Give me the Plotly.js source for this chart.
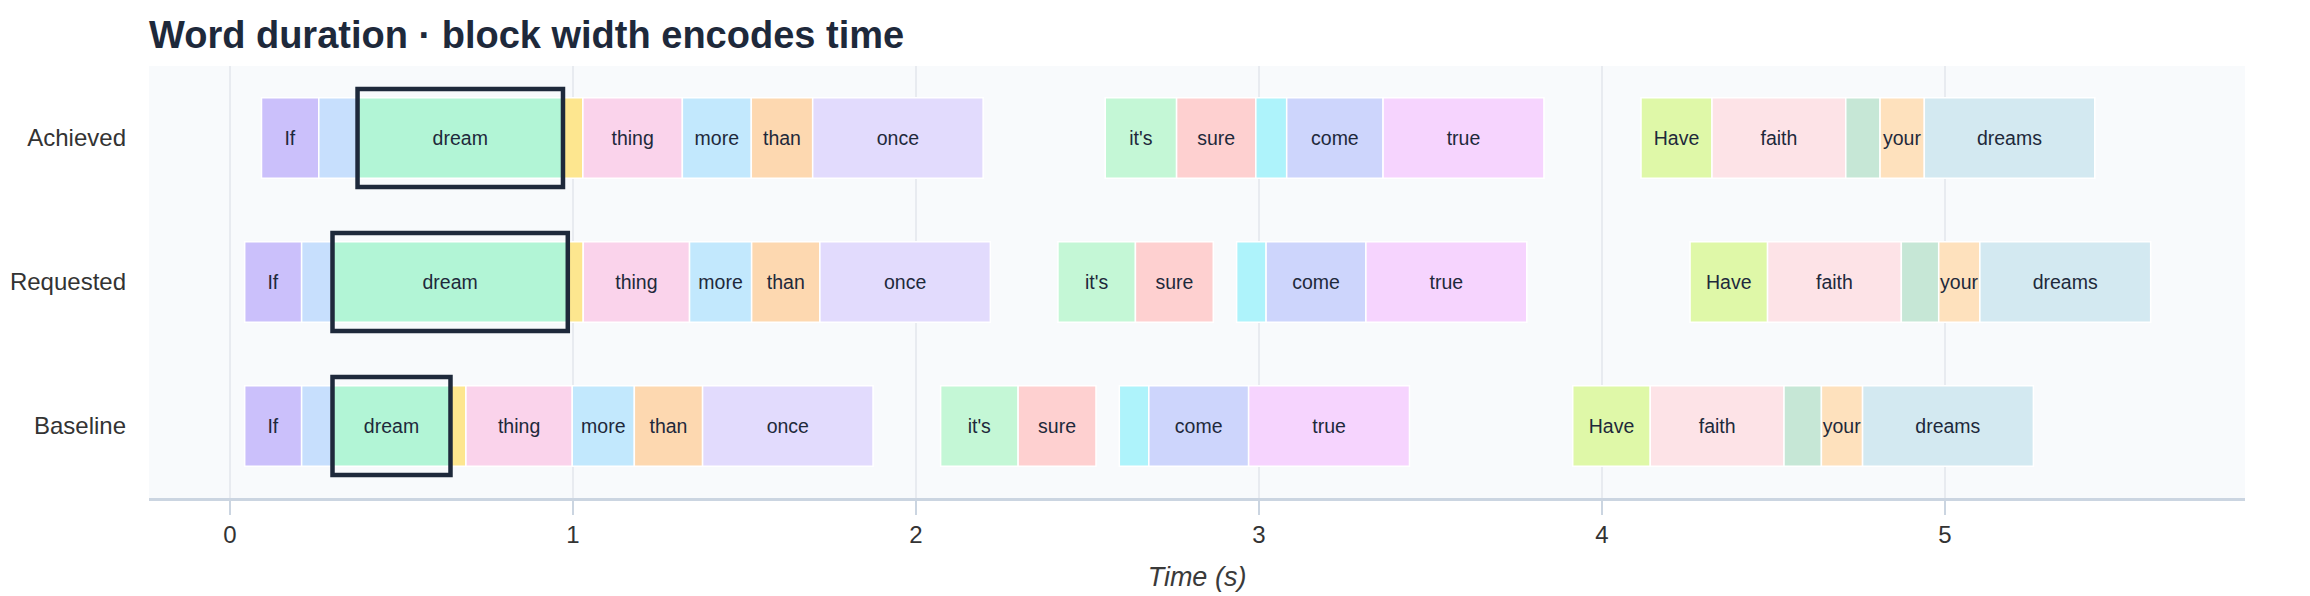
<!DOCTYPE html>
<html>
<head>
<meta charset="utf-8">
<script src="https://cdn.plot.ly/plotly-3.0.1.min.js"></script>
<style>
  html, body { margin: 0; padding: 0; background: #fff; }
  #chart { width: 2310px; height: 596px; }
</style>
</head>
<body>
<div id="chart"></div>
<script>
// Words of the phrase, in order
const words = ['If', 'I', 'dream', 'a', 'thing', 'more', 'than', 'once',
    "it's", 'sure', 'to', 'come', 'true',
    'Have', 'faith', 'in', 'your', 'dreams'];

// Short words whose block is too narrow to carry a label
const hiddenLabels = ['I', 'a', 'to', 'in'];

// One pastel colour per word
const wordColors = ['#cbc0fb', '#c7dffd', '#b2f5d6', '#fde68f', '#fad3eb', '#c2e8fd', '#fdd8b0', '#e2dbfd',
    '#c4f7d6', '#fed0d0', '#aef3fb', '#cdd5fc', '#f6d4fe',
    '#dff8a8', '#fde3e7', '#c6e7d6', '#fee1bd', '#d3e9f1'];

// Rows, top to bottom
const rows = ['Achieved', 'Requested', 'Baseline'];

// Word start / end times in seconds, per row
const baselineStart = [0.043, 0.209, 0.299, 0.643, 0.688, 0.998, 1.179, 1.378,
    2.072, 2.298, 2.593, 2.679, 2.970,
    3.915, 4.141, 4.531, 4.640, 4.760];
const baselineEnd = [0.209, 0.299, 0.643, 0.688, 0.998, 1.179, 1.378, 1.875,
    2.298, 2.525, 2.679, 2.970, 3.439,
    4.141, 4.531, 4.640, 4.760, 5.258];

const requestedStart = [0.043, 0.209, 0.299, 0.985, 1.030, 1.340, 1.521, 1.720,
    2.414, 2.640, 2.935, 3.021, 3.312,
    4.257, 4.483, 4.873, 4.982, 5.102];
const requestedEnd = [0.209, 0.299, 0.985, 1.030, 1.340, 1.521, 1.720, 2.217,
    2.640, 2.867, 3.021, 3.312, 3.781,
    4.483, 4.873, 4.982, 5.102, 5.600];

const achievedStart = [0.092, 0.259, 0.372, 0.971, 1.029, 1.319, 1.520, 1.699,
    2.552, 2.760, 2.991, 3.081, 3.362,
    4.114, 4.321, 4.711, 4.811, 4.940];
const achievedEnd = [0.259, 0.372, 0.971, 1.029, 1.319, 1.520, 1.699, 2.196,
    2.760, 2.991, 3.081, 3.362, 3.831,
    4.321, 4.711, 4.811, 4.940, 5.437];

// The word that gets the outline
const focusWord = 'dream';

const FONT = 'Helvetica Neue, Helvetica, Arial, sans-serif';
const INK = '#1e293b';

const rowData = {
    Achieved: [achievedStart, achievedEnd],
    Requested: [requestedStart, requestedEnd],
    Baseline: [baselineStart, baselineEnd],
};

const labels = words.map(w => hiddenLabels.includes(w) ? '' : w);

// One bar trace per row: every word is a block from start to end
const traces = rows.map(row => {
    const [starts, ends] = rowData[row];
    return {
        type: 'bar',
        orientation: 'h',
        name: row,
        y: words.map(() => row),
        base: starts,
        x: ends.map((e, i) => e - starts[i]),
        width: 0.56,
        text: labels,
        textposition: 'inside',
        insidetextanchor: 'middle',
        textangle: 0,
        constraintext: 'none',
        textfont: { family: FONT, size: 19.5, color: INK },
        marker: {
            color: wordColors,
            line: { color: '#ffffff', width: 1.5 },
        },
        hoverinfo: 'skip',
        showlegend: false,
    };
});

// Outline around the focus word in every row
const fi = words.indexOf(focusWord);
traces.push({
    type: 'bar',
    orientation: 'h',
    y: rows,
    base: rows.map(r => rowData[r][0][fi]),
    x: rows.map(r => rowData[r][1][fi] - rowData[r][0][fi]),
    width: 0.68,
    marker: {
        color: 'rgba(0,0,0,0)',
        line: { color: INK, width: 4.5 },
    },
    hoverinfo: 'skip',
    showlegend: false,
});

const layout = {
    width: 2310,
    height: 596,
    barmode: 'overlay',
    paper_bgcolor: '#ffffff',
    plot_bgcolor: '#f8fafc',
    margin: { l: 149, r: 65, t: 66, b: 98 },
    title: {
        text: 'Word duration · block width encodes time',
        font: { family: FONT, size: 38, color: INK, weight: 700 },
        x: 0,
        xref: 'paper',
        xanchor: 'left',
        y: 0.942,
        yref: 'container',
        yanchor: 'middle',
    },
    xaxis: {
        range: [-0.236, 5.875],
        tickvals: [0, 1, 2, 3, 4, 5],
        showgrid: true,
        gridcolor: '#e8ebf0',
        gridwidth: 1.5,
        zeroline: false,
        showline: true,
        linecolor: '#cbd5e1',
        linewidth: 2.5,
        ticks: 'outside',
        ticklen: 14,
        tickwidth: 2,
        tickcolor: '#cbd5e1',
        tickfont: { family: FONT, size: 24, color: '#333333' },
        automargin: false,
        title: {
            text: 'Time (s)',
            font: { family: FONT, size: 27, color: '#3a3a3a', style: 'italic' },
            standoff: 20,
        },
    },
    yaxis: {
        type: 'category',
        categoryorder: 'array',
        categoryarray: rows.slice().reverse(),
        range: [-0.5, 2.5],
        showgrid: false,
        zeroline: false,
        showline: false,
        ticks: '',
        ticklabelstandoff: 22,
        tickfont: { family: FONT, size: 24, color: '#333333' },
        automargin: false,
    },
};

Plotly.newPlot('chart', traces, layout, { displayModeBar: false, staticPlot: true });
</script>
</body>
</html>
